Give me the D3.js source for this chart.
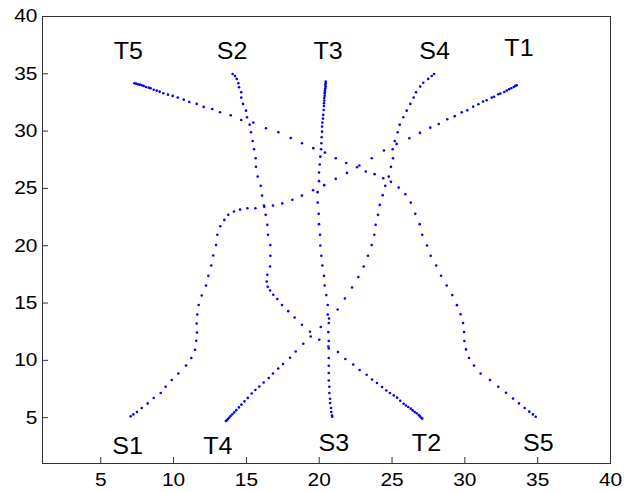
<!DOCTYPE html>
<html>
<head>
<meta charset="utf-8">
<script src="https://cdn.jsdelivr.net/npm/d3@7"></script>
<style>
  body { margin: 0; background: #fff; }
  svg { display: block; }
  text { font-family: "Liberation Sans", Arial, sans-serif; }
</style>
</head>
<body>
<svg id="chart" width="632" height="492"></svg>
<script>
// Axis ticks
const xTicks = [5, 10, 15, 20, 25, 30, 35, 40];
const yTicks = [5, 10, 15, 20, 25, 30, 35, 40];

// Sampled positions along each route, [x, y]
const route1 = [ // S1 -> T1
  [7.09,5.07],[7.27,5.24],[7.52,5.45],[7.85,5.80],[8.26,6.20],[8.67,6.67],[9.15,7.11],[9.49,7.65],
  [9.91,8.24],[10.36,8.81],[10.89,9.51],[11.25,10.16],[11.51,10.88],[11.59,11.67],[11.64,12.39],
  [11.62,13.17],[11.66,13.96],[11.76,14.78],[11.97,15.61],[12.26,16.49],[12.42,17.33],[12.62,18.23],
  [12.76,19.10],[12.95,20.01],[13.04,20.91],[13.24,21.66],[13.52,22.21],[13.79,22.65],[14.18,22.94],
  [14.60,23.11],[15.10,23.23],[15.65,23.23],[16.26,23.35],[16.86,23.46],[17.50,23.65],[18.19,23.96],
  [18.85,24.33],[19.61,24.80],[20.38,25.24],[21.17,25.79],[21.94,26.31],[22.79,26.95],[23.64,27.59],
  [24.48,28.26],[25.35,28.84],[26.22,29.34],[26.95,29.80],[27.66,30.26],[28.24,30.58],[28.83,30.99],
  [29.34,31.26],[29.82,31.60],[30.20,31.78],[30.61,32.09],[30.96,32.30],[31.28,32.53],[31.53,32.65],
  [31.88,32.88],[32.04,32.96],[32.33,33.17],[32.47,33.23],[32.74,33.37],[32.91,33.49],[33.07,33.61],
  [33.22,33.70],[33.39,33.81],[33.50,33.90],[33.59,33.96]
];
const route2 = [ // S2 -> T2
  [14.09,34.94],[14.25,34.77],[14.37,34.51],[14.48,34.13],[14.53,33.78],[14.68,33.35],[14.68,32.88],
  [14.80,32.33],[15.01,31.74],[15.08,31.17],[15.26,30.52],[15.35,29.86],[15.47,29.10],[15.56,28.38],
  [15.67,27.59],[15.69,26.84],[15.81,25.99],[16.02,25.18],[16.11,24.33],[16.24,23.46],[16.36,22.65],
  [16.47,21.78],[16.52,20.91],[16.68,20.01],[16.68,19.08],[16.66,18.14],[16.47,17.42],[16.43,16.84],
  [16.50,16.37],[16.66,16.05],[16.88,15.68],[17.16,15.30],[17.48,14.78],[17.91,14.25],[18.35,13.70],
  [18.85,13.06],[19.40,12.45],[20.04,11.75],[20.66,11.17],[21.32,10.68],[21.83,10.07],[22.37,9.60],
  [22.81,9.11],[23.29,8.70],[23.66,8.29],[24.00,7.98],[24.35,7.63],[24.64,7.33],[24.89,7.11],
  [25.15,6.90],[25.38,6.70],[25.60,6.43],[25.83,6.17],[25.99,6.02],[26.15,5.88],[26.32,5.74],
  [26.45,5.59],[26.59,5.45],[26.73,5.33],[26.87,5.19],[26.95,5.07],[27.04,4.95],[27.11,4.87]
];
const route3 = [ // S3 -> T3
  [20.93,5.04],[20.91,5.15],[20.86,5.45],[20.84,5.80],[20.78,6.23],[20.78,6.61],[20.73,7.11],
  [20.73,7.65],[20.69,8.20],[20.69,8.85],[20.69,9.49],[20.69,10.16],[20.69,10.99],[20.69,11.64],
  [20.66,12.42],[20.69,13.21],[20.62,13.96],[20.62,14.78],[20.52,15.65],[20.41,16.49],[20.36,17.33],
  [20.25,18.23],[20.18,19.08],[20.11,19.97],[20.09,20.91],[20.02,21.84],[20.00,22.74],[19.93,23.72],
  [19.93,24.63],[20.02,25.59],[20.02,26.34],[20.07,27.04],[20.11,27.73],[20.16,28.38],[20.18,28.90],
  [20.20,29.42],[20.23,29.91],[20.23,30.35],[20.25,30.70],[20.29,31.05],[20.31,31.37],[20.34,31.80],
  [20.36,32.15],[20.36,32.39],[20.38,32.62],[20.38,32.85],[20.41,33.05],[20.41,33.26],[20.43,33.40],
  [20.43,33.55],[20.45,33.70],[20.48,33.84],[20.45,33.98],[20.48,34.13],[20.48,34.27]
];
const route4 = [ // S4 -> T4
  [27.92,34.94],[27.76,34.77],[27.52,34.51],[27.18,34.18],[26.97,33.84],[26.68,33.35],[26.52,32.88],
  [26.29,32.33],[26.04,31.74],[25.81,31.17],[25.56,30.52],[25.42,29.86],[25.22,29.10],[25.08,28.38],
  [25.10,27.59],[24.96,26.84],[24.81,25.99],[24.57,25.18],[24.39,24.37],[24.19,23.52],[24.07,22.65],
  [23.91,21.78],[23.82,20.91],[23.64,20.01],[23.38,19.08],[23.09,18.14],[22.72,17.22],[22.29,16.31],
  [21.80,15.35],[21.30,14.39],[20.71,13.61],[20.14,12.86],[19.45,12.04],[18.94,11.40],[18.42,10.73],
  [18.03,10.18],[17.55,9.63],[17.22,9.25],[16.86,8.81],[16.57,8.41],[16.22,8.03],[15.92,7.68],
  [15.65,7.37],[15.40,7.07],[15.13,6.68],[14.90,6.38],[14.69,6.09],[14.52,5.85],[14.34,5.61],
  [14.20,5.42],[14.07,5.25],[13.95,5.09],[13.85,4.95],[13.76,4.83],[13.69,4.73],[13.63,4.66]
];
const route5 = [ // S5 -> T5
  [34.90,5.04],[34.71,5.24],[34.46,5.48],[34.14,5.80],[33.75,6.20],[33.34,6.63],[32.86,7.13],
  [32.33,7.65],[31.76,8.24],[31.12,8.81],[30.66,9.51],[30.32,10.16],[30.11,10.91],[30.00,11.65],
  [29.98,12.42],[29.91,13.21],[29.74,13.98],[29.49,14.77],[29.17,15.65],[28.79,16.49],[28.40,17.34],
  [28.07,18.23],[27.69,19.08],[27.44,19.97],[27.11,20.91],[26.93,21.84],[26.63,22.74],[26.32,23.72],
  [25.95,24.45],[25.49,25.03],[24.96,25.53],[24.43,25.85],[23.84,26.20],[23.23,26.43],[22.63,26.81],
  [21.89,27.18],[21.17,27.59],[20.43,28.08],[19.63,28.47],[18.85,28.90],[18.08,29.36],[17.23,29.86],
  [16.38,30.21],[15.51,30.70],[14.68,30.93],[13.96,31.34],[13.22,31.60],[12.69,31.89],[12.10,32.07],
  [11.62,32.33],[11.11,32.50],[10.73,32.70],[10.32,32.88],[9.97,33.03],[9.65,33.14],[9.33,33.26],
  [9.08,33.40],[8.88,33.49],[8.67,33.57],[8.46,33.70],[8.33,33.75],[8.14,33.81],[7.98,33.90],
  [7.85,33.96],[7.71,34.01],[7.57,34.05],[7.45,34.10],[7.34,34.13]
];

// Start / target names and where they sit (text baseline, data units)
const labelNames = ["S1", "T4", "S3", "T2", "S5", "T5", "S2", "T3", "S4", "T1"];
const labelX     = [6.87, 13.08, 21.04, 27.40, 35.08, 6.93, 14.05, 20.64, 27.96, 33.75];
const labelY     = [1.81, 1.81, 2.01, 2.01, 2.01, 36.22, 36.22, 36.22, 36.22, 36.51];

const routes = [route1, route2, route3, route4, route5];

const svg = d3.select("#chart");
const x = d3.scaleLinear().domain([1, 40]).range([42, 610]);
const y = d3.scaleLinear().domain([1, 40]).range([463, 16]);

svg.append("rect").attr("width", 632).attr("height", 492).attr("fill", "#fff");

// Bottom axis, ticks pointing inward
const gx = svg.append("g")
  .attr("transform", `translate(0,${y.range()[0]})`)
  .call(d3.axisBottom(x).tickValues(xTicks).tickSize(-6).tickPadding(10));
gx.select(".domain").remove();
gx.selectAll(".tick line").attr("stroke", "#333");
gx.selectAll(".tick text")
  .attr("font-size", 18.5).attr("fill", "#000")
  .attr("transform", "scale(1.13,1)");

// Left axis, ticks pointing inward
const gy = svg.append("g")
  .attr("transform", `translate(${x.range()[0]},0)`)
  .call(d3.axisLeft(y).tickValues(yTicks).tickSize(-6).tickPadding(4));
gy.select(".domain").remove();
gy.selectAll(".tick line").attr("stroke", "#333");
gy.selectAll(".tick text")
  .attr("font-size", 18.5).attr("fill", "#000")
  .attr("transform", "scale(1.13,1)");

// Plot frame
svg.append("rect")
  .attr("x", x.range()[0]).attr("y", y.range()[1])
  .attr("width", x.range()[1] - x.range()[0])
  .attr("height", y.range()[0] - y.range()[1])
  .attr("fill", "none").attr("stroke", "#333").attr("stroke-width", 1)
  .attr("shape-rendering", "crispEdges");

// Route samples as dots
svg.append("g").selectAll("g")
  .data(routes).join("g")
  .selectAll("circle")
  .data(d => d).join("circle")
  .attr("cx", d => x(d[0]))
  .attr("cy", d => y(d[1]))
  .attr("r", 1.3)
  .attr("fill", "#0000ff");

// Start and target names
svg.append("g").selectAll("text")
  .data(labelNames).join("text")
  .attr("transform", (d, i) => `translate(${x(labelX[i])},${y(labelY[i])}) scale(1.09,1)`)
  .attr("text-anchor", "middle")
  .attr("font-size", 23)
  .attr("fill", "#000")
  .text(d => d);
</script>
</body>
</html>
